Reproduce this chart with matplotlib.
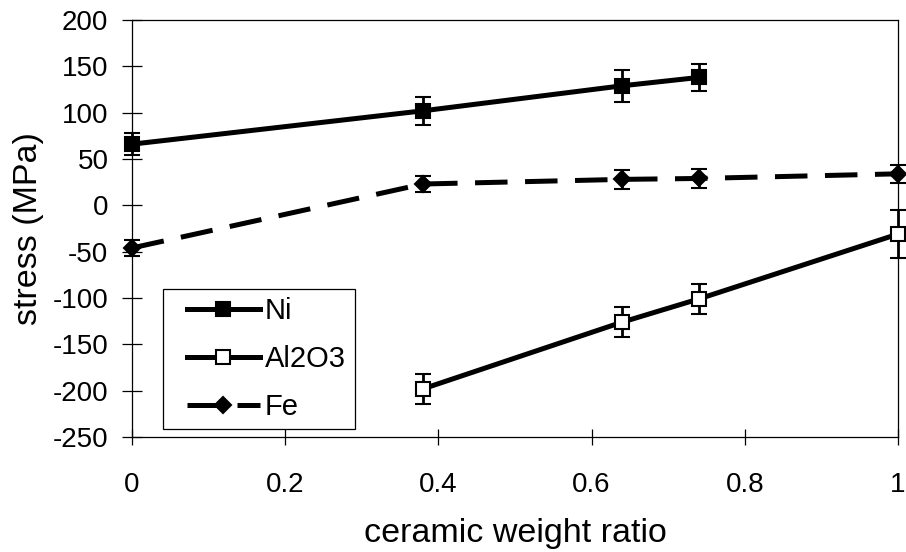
import matplotlib
matplotlib.use("Agg")
import matplotlib.pyplot as plt
from matplotlib.lines import Line2D
from matplotlib.patches import Rectangle

plt.rcParams['font.family'] = ['Liberation Sans', 'DejaVu Sans']
plt.rcParams['axes.unicode_minus'] = False

# data
ni_x = [0.0, 0.38, 0.64, 0.74]
ni_y = [66, 102, 129, 138]
ni_err = [12, 15, 17, 15]

al_x = [0.38, 0.64, 0.74, 1.0]
al_y = [-198, -126, -101, -31]
al_err = [16, 16, 16, 26]

fe_x = [0.0, 0.38, 0.64, 0.74, 1.0]
fe_y = [-46, 23, 28, 29, 34]
fe_err = [9, 9, 10, 10, 10]

xticks = [0, 0.2, 0.4, 0.6, 0.8, 1]
xticklabels = ['0', '0.2', '0.4', '0.6', '0.8', '1']
yticks = [-250, -200, -150, -100, -50, 0, 50, 100, 150, 200]
series_names = ['Ni', 'Al2O3', 'Fe']

fig = plt.figure(figsize=(9.06, 5.52), dpi=100)
ax = fig.add_axes([0.1457, 0.2083, 0.9912 - 0.1457, 0.9638 - 0.2083])

lw = 3.6
ms_sq = 10.5
ms_d = 8
dash = (0, (6.5, 3.5))
common = dict(color='black', lw=lw, elinewidth=2.0, capsize=5.5, capthick=2.0,
              markeredgewidth=1.5, markeredgecolor='black', clip_on=False, zorder=3)

ax.errorbar(ni_x, ni_y, yerr=ni_err, marker='s', ms=ms_sq, markerfacecolor='black', **common)
ax.errorbar(al_x, al_y, yerr=al_err, marker='s', ms=ms_sq, markerfacecolor='white', **common)
ax.errorbar(fe_x, fe_y, yerr=fe_err, marker='D', ms=ms_d, markerfacecolor='black',
            linestyle=dash, **common)

ax.set_xlim(0, 1)
ax.set_ylim(-250, 200)
ax.set_xticks(xticks)
ax.set_xticklabels(xticklabels)
ax.set_yticks(yticks)

for s in ax.spines.values():
    s.set_linewidth(0.9)
    s.set_color('black')

ax.tick_params(axis='y', direction='inout', length=14, width=0.9, labelsize=20, pad=10)
ax.tick_params(axis='x', direction='inout', length=11, width=0.9, labelsize=20, pad=20)

ax.set_xlabel('ceramic weight ratio', fontsize=24.5, labelpad=14)
ax.set_ylabel('stress (MPa)', fontsize=24.5, labelpad=6)

# legend frame
ax.add_patch(Rectangle((0.0405, 0.019), 0.2505, 0.336, transform=ax.transAxes,
                       facecolor='white', edgecolor='black', lw=0.9, zorder=4))

handles = [
    Line2D([], [], color='black', lw=lw, marker='s', ms=ms_sq, markerfacecolor='black',
           markeredgecolor='black', markeredgewidth=1.5),
    Line2D([], [], color='black', lw=lw, marker='s', ms=ms_sq, markerfacecolor='white',
           markeredgecolor='black', markeredgewidth=1.5),
    Line2D([], [], color='black', lw=lw, marker='D', ms=ms_d, markerfacecolor='black',
           markeredgecolor='black', markeredgewidth=1.5, linestyle=dash),
]
leg = ax.legend(handles, series_names, loc='center left',
                bbox_to_anchor=(0.0718, 0.187), fontsize=21, frameon=False,
                borderaxespad=0, borderpad=0, handlelength=2.5, handletextpad=0.17,
                labelspacing=0.68)
leg.set_zorder(5)

fig.savefig('out.png', dpi=100)
